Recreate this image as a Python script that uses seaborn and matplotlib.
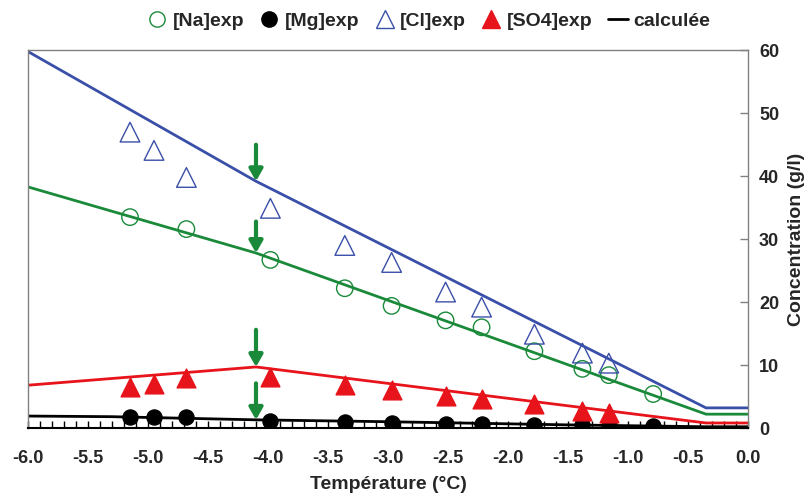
import matplotlib
matplotlib.use("Agg")
import matplotlib.pyplot as plt
import seaborn as sns
import pandas as pd
from matplotlib.lines import Line2D
from matplotlib.ticker import MultipleLocator

sns.set_style("white")
plt.rcParams['font.family'] = ['Liberation Sans', 'DejaVu Sans']
plt.rcParams['font.weight'] = 'bold'

# experimental temperatures
t_exp = [-5.15, -4.95, -4.68, -3.98, -3.36, -2.97, -2.52, -2.22, -1.78, -1.38, -1.16, -0.79]
na_exp = [33.5, None, 31.6, 26.7, 22.2, 19.4, 17.1, 16.0, 12.2, 9.4, 8.4, 5.4]
mg_exp = [1.7, 1.7, 1.7, 1.1, 1.0, 0.8, 0.6, 0.6, 0.5, 0.4, 0.3, 0.3]
cl_exp = [47.0, 44.1, 39.8, 34.9, 29.0, 26.3, 21.6, 19.2, 14.9, 11.9, 10.3, None]
so4_exp = [6.5, 7.0, 7.9, 8.1, 6.8, 6.0, 5.1, 4.6, 3.8, 2.7, 2.4, None]

# calculated curves
t_calc = [-6.0, -4.1, -0.35, 0.0]
na_calc = [38.3, 27.8, 2.2, 2.2]
cl_calc = [59.8, 39.2, 3.2, 3.2]
so4_calc = [6.8, 9.7, 0.8, 0.8]
t_mg = [-6.0, -5.3, -4.1, -3.0, -1.5, -0.35, 0.0]
mg_calc = [1.9, 1.8, 1.3, 1.0, 0.5, 0.2, 0.2]

# arrows (x, y_start, y_end)
arrow_x = -4.1
arrow_from = [45.0, 32.8, 15.6, 7.1]
arrow_to = [39.2, 27.8, 9.7, 1.3]

green = "#1a8a3a"
blue = "#3a4fa8"
red = "#e8141c"
black = "#000000"

fig = plt.figure(figsize=(8.09, 4.97), dpi=100)
ax = fig.add_axes([0.0346, 0.1388, 0.89, 0.760])

calc = pd.DataFrame({"t": t_calc, "na": na_calc, "cl": cl_calc, "so4": so4_calc})
mgc = pd.DataFrame({"t": t_mg, "mg": mg_calc})
exp = pd.DataFrame({"t": t_exp, "na": na_exp, "mg": mg_exp, "cl": cl_exp, "so4": so4_exp})

sns.lineplot(data=calc, x="t", y="cl", color=blue, lw=2, ax=ax, sort=False)
sns.lineplot(data=calc, x="t", y="na", color=green, lw=2, ax=ax, sort=False)
sns.lineplot(data=calc, x="t", y="so4", color=red, lw=2, ax=ax, sort=False)
sns.lineplot(data=mgc, x="t", y="mg", color=black, lw=2, ax=ax, sort=False)

for y0, y1 in zip(arrow_from, arrow_to):
    ax.annotate("", xy=(arrow_x, y1), xytext=(arrow_x, y0),
                arrowprops=dict(arrowstyle="-|>,head_length=0.7,head_width=0.4",
                                color=green, lw=3, shrinkA=0, shrinkB=0), zorder=5)

sns.scatterplot(data=exp, x="t", y="na", marker="o", s=140, facecolor="none",
                edgecolor=green, linewidth=1, ax=ax, zorder=6)
sns.scatterplot(data=exp, x="t", y="mg", marker="o", s=120, color=black,
                edgecolor=black, ax=ax, zorder=6)
sns.scatterplot(data=exp, x="t", y="cl", marker="^", s=200, facecolor="none",
                edgecolor=blue, linewidth=1, ax=ax, zorder=6)
sns.scatterplot(data=exp, x="t", y="so4", marker="^", s=180, color=red,
                edgecolor=red, ax=ax, zorder=6)

ax.set_xlim(-6.0, 0.0)
ax.set_ylim(0, 60)
ax.yaxis.tick_right()
ax.yaxis.set_label_position("right")
ax.xaxis.set_major_locator(MultipleLocator(0.5))
ax.xaxis.set_minor_locator(MultipleLocator(0.1))
ax.yaxis.set_major_locator(MultipleLocator(10))
ax.xaxis.set_major_formatter(matplotlib.ticker.FormatStrFormatter("%.1f"))
ax.tick_params(axis="x", which="both", direction="in", length=5, width=1,
               color="black", labelsize=13, pad=16, bottom=True)
ax.tick_params(axis="y", which="major", direction="in", length=6, width=1,
               color="#808080", labelsize=13, pad=8, right=True, left=False)
for lab in ax.get_xticklabels() + ax.get_yticklabels():
    lab.set_fontweight("bold")
ax.set_xlabel("Température (°C)", fontsize=14, fontweight="bold", labelpad=6)
ax.set_ylabel("Concentration (g/l)", fontsize=14, fontweight="bold", labelpad=6)

for name, sp in ax.spines.items():
    sp.set_visible(True)
    sp.set_color("#808080")
    sp.set_linewidth(1)
ax.spines["bottom"].set_color("black")
ax.spines["bottom"].set_linewidth(1.5)

handles = [
    Line2D([], [], marker="o", ls="none", mfc="none", mec=green, ms=11, mew=1),
    Line2D([], [], marker="o", ls="none", mfc=black, mec=black, ms=11),
    Line2D([], [], marker="^", ls="none", mfc="none", mec=blue, ms=13, mew=1),
    Line2D([], [], marker="^", ls="none", mfc=red, mec=red, ms=13),
    Line2D([], [], color=black, lw=2),
]
labels = ["[Na]exp", "[Mg]exp", "[Cl]exp", "[SO4]exp", "calculée"]
fig.legend(handles, labels, loc="upper center", bbox_to_anchor=(0.53, 1.01), ncol=5,
           frameon=False, prop={"weight": "bold", "size": 14}, handlelength=1.0,
           handletextpad=0.3, columnspacing=0.8)

fig.savefig("out.png", dpi=100)
